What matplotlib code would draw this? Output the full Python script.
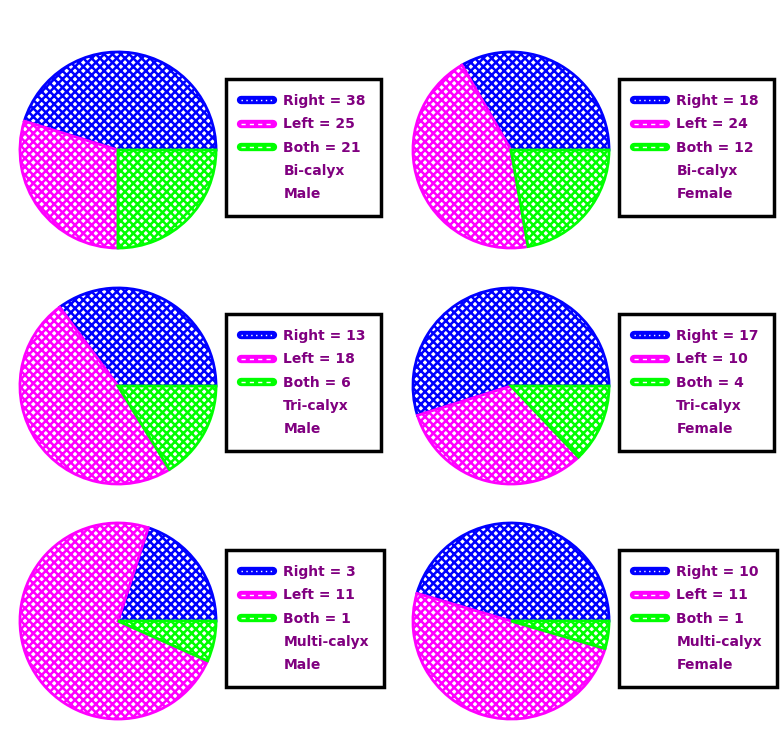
import matplotlib
matplotlib.use("Agg")
import matplotlib.pyplot as plt
from matplotlib.lines import Line2D
from matplotlib.legend_handler import HandlerTuple

plt.rcParams['hatch.linewidth'] = 1.8

categories = ["Right", "Left", "Both"]
titles = [("Bi-calyx", "Male"), ("Bi-calyx", "Female"),
          ("Tri-calyx", "Male"), ("Tri-calyx", "Female"),
          ("Multi-calyx", "Male"), ("Multi-calyx", "Female")]
bi_male = [38, 25, 21]
bi_female = [18, 24, 12]
tri_male = [13, 18, 6]
tri_female = [17, 10, 4]
multi_male = [3, 11, 1]
multi_female = [10, 11, 1]
all_values = [bi_male, bi_female, tri_male, tri_female, multi_male, multi_female]

colors = ["#0000FF", "#FF00FF", "#00FF00"]
dash_styles = [(0, (1, 2.5)), (0, (3, 3)), (0, (3, 3))]

W, H = 781, 741
fig = plt.figure(figsize=(W / 100, H / 100), dpi=100)

pie_cx = [118, 511]
pie_cy = [150, 386, 621]
R = 100
leg_x = [226, 619]
leg_y = [79, 314, 550]

text_color = "#800080"

for i, vals in enumerate(all_values):
    row, col = divmod(i, 2)
    cx, cy = pie_cx[col], pie_cy[row]
    ax = fig.add_axes([(cx - R) / W, 1 - (cy + R) / H, 2 * R / W, 2 * R / H])
    wedges, _ = ax.pie(vals, colors=["white"] * 3, startangle=0,
                       counterclock=True, radius=1.0)
    for w, c in zip(wedges, colors):
        w.set_edgecolor(c)
        w.set_hatch("xxxx")
        w.set_linewidth(2.0)
    ax.set_xlim(-1.02, 1.02)
    ax.set_ylim(-1.02, 1.02)
    ax.set_aspect("equal")
    ax.axis("off")

    handles = []
    labels = []
    for name, v, c, ds in zip(categories, vals, colors, dash_styles):
        base = Line2D([], [], color=c, lw=6, solid_capstyle="round")
        over = Line2D([], [], color="white", lw=1.0, linestyle=ds)
        handles.append((base, over))
        labels.append(f"{name} = {v}")
    for t in titles[i]:
        handles.append(Line2D([], [], color="none"))
        labels.append(t)

    leg = fig.legend(handles, labels, loc="upper left",
                     bbox_to_anchor=(leg_x[col] / W, 1 - leg_y[row] / H),
                     bbox_transform=fig.transFigure, borderaxespad=0,
                     handler_map={tuple: HandlerTuple(ndivide=1, pad=0)},
                     prop={"family": "DejaVu Sans", "weight": "bold", "size": 10},
                     handlelength=2.25, handletextpad=0.78, labelspacing=0.66,
                     borderpad=1.1, fancybox=False, framealpha=1)
    leg.get_frame().set_edgecolor("black")
    leg.get_frame().set_linewidth(2.5)
    for t in leg.get_texts():
        t.set_color(text_color)

fig.savefig("out.png", dpi=100)
